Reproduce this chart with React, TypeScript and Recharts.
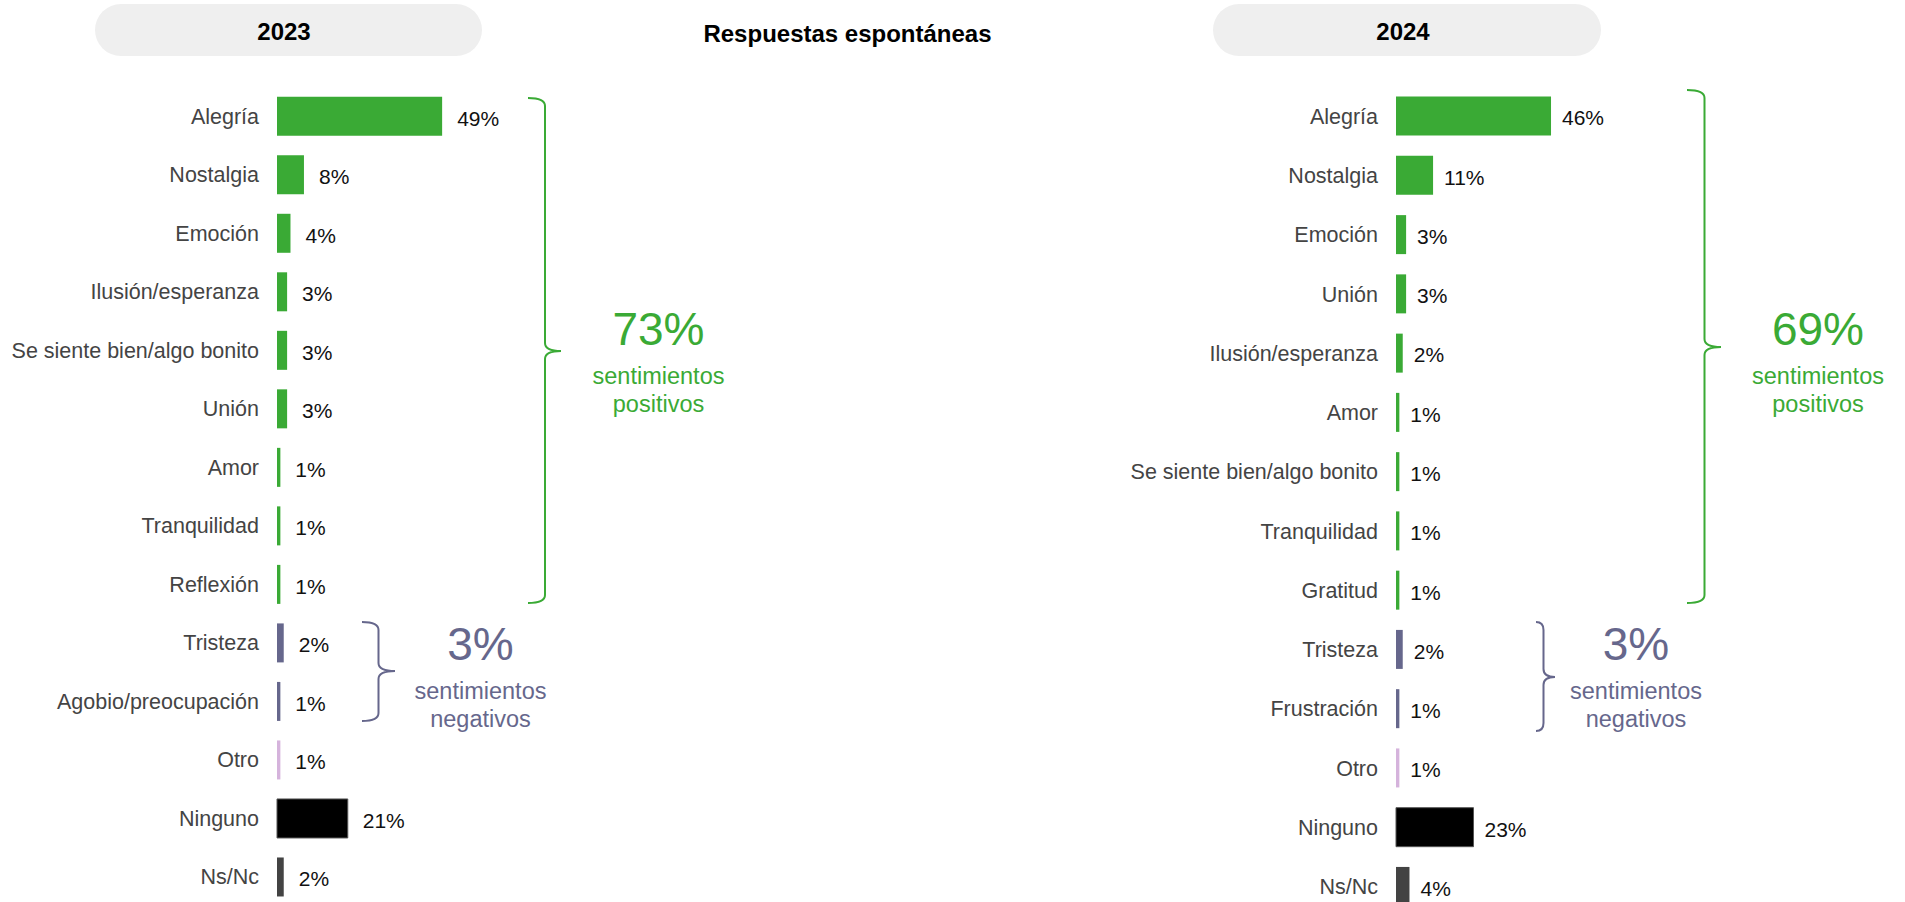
import React from "react";
import { BarChart, Bar, XAxis, YAxis, Cell, LabelList } from "recharts";

const categories2023 = [
  "Alegría",
  "Nostalgia",
  "Emoción",
  "Ilusión/esperanza",
  "Se siente bien/algo bonito",
  "Unión",
  "Amor",
  "Tranquilidad",
  "Reflexión",
  "Tristeza",
  "Agobio/preocupación",
  "Otro",
  "Ninguno",
  "Ns/Nc",
];
const values2023 = [49, 8, 4, 3, 3, 3, 1, 1, 1, 2, 1, 1, 21, 2];
const groups2023 = ["pos", "pos", "pos", "pos", "pos", "pos", "pos", "pos", "pos", "neg", "neg", "otro", "ninguno", "nsnc"];

const categories2024 = [
  "Alegría",
  "Nostalgia",
  "Emoción",
  "Unión",
  "Ilusión/esperanza",
  "Amor",
  "Se siente bien/algo bonito",
  "Tranquilidad",
  "Gratitud",
  "Tristeza",
  "Frustración",
  "Otro",
  "Ninguno",
  "Ns/Nc",
];
const values2024 = [46, 11, 3, 3, 2, 1, 1, 1, 1, 2, 1, 1, 23, 4];
const groups2024 = ["pos", "pos", "pos", "pos", "pos", "pos", "pos", "pos", "pos", "neg", "neg", "otro", "ninguno", "nsnc"];

const years = ["2023", "2024"];
const positiveTotals = [73, 69];
const negativeTotals = [3, 3];
const title = "Respuestas espontáneas";
const positiveText = ["sentimientos", "positivos"];
const negativeText = ["sentimientos", "negativos"];

const FONT = '"Liberation Sans", Arial, Helvetica, sans-serif';
const GREEN = "#3aaa35";
const SLATE = "#66678c";
const groupColors: Record<string, string> = {
  pos: GREEN,
  neg: SLATE,
  otro: "#d5b3dc",
  ninguno: "#000000",
  nsnc: "#434343",
};

function buildData(cats: string[], vals: number[], groups: string[]) {
  return cats.map((name, i) => ({ name, value: vals[i], group: groups[i] }));
}

const data2023 = buildData(categories2023, values2023, groups2023);
const data2024 = buildData(categories2024, values2024, groups2024);

function makeLabel(offset: number) {
  return (props: any) => {
    const { x, y, width, height, value } = props;
    return (
      <text
        x={Number(x) + Number(width) + offset}
        y={Number(y) + Number(height) / 2 + 2}
        dy="0.35em"
        fill="#111111"
        fontSize={21}
        fontFamily={FONT}
        textAnchor="start"
      >
        {`${value}%`}
      </text>
    );
  };
}

function Panel(props: {
  data: { name: string; value: number; group: string }[];
  left: number;
  width: number;
  height: number;
  axisWidth: number;
  top: number;
  bottom: number;
  right: number;
  labelOffset: number;
}) {
  const { data, left, width, height, axisWidth, top, bottom, right, labelOffset } = props;
  return (
    <div style={{ position: "absolute", left, top: 0, width, height }}>
      <BarChart
        width={width}
        height={height}
        data={data}
        layout="vertical"
        margin={{ top, right, bottom, left: 0 }}
        barCategoryGap={0}
      >
        <XAxis type="number" domain={[0, 100]} hide />
        <YAxis
          type="category"
          dataKey="name"
          width={axisWidth}
          axisLine={false}
          tickLine={false}
          tickSize={0}
          tickMargin={18}
          interval={0}
          tick={{ fill: "#444444", fontSize: 21.5, fontFamily: FONT }}
        />
        <Bar dataKey="value" barSize={39} isAnimationActive={false}>
          {data.map((d, i) => (
            <Cell
              key={i}
              fill={groupColors[d.group]}
              stroke={d.group === "ninguno" ? "#555555" : "none"}
              strokeWidth={1}
            />
          ))}
          <LabelList dataKey="value" content={makeLabel(labelOffset)} />
        </Bar>
      </BarChart>
    </div>
  );
}

function brace(xHook: number, xLine: number, xTip: number, yTop: number, yMid: number, yBot: number) {
  const r = 8;
  return `M${xHook},${yTop} Q${xLine},${yTop} ${xLine},${yTop + r} L${xLine},${yMid - r} Q${xLine},${yMid} ${xTip},${yMid} Q${xLine},${yMid} ${xLine},${yMid + r} L${xLine},${yBot - r} Q${xLine},${yBot} ${xHook},${yBot}`;
}

function Summary(props: { cx: number; value: number; lines: string[]; color: string; baseline: number }) {
  const { cx, value, lines, color, baseline } = props;
  return (
    <g fontFamily={FONT} fill={color} textAnchor="middle">
      <text x={cx} y={baseline} fontSize={46}>
        {`${value}%`}
      </text>
      <text x={cx} y={baseline + 39} fontSize={23.5}>
        {lines[0]}
      </text>
      <text x={cx} y={baseline + 67} fontSize={23.5}>
        {lines[1]}
      </text>
    </g>
  );
}

export default function App() {
  return (
    <div
      style={{
        position: "absolute",
        left: 0,
        top: 0,
        width: 1905,
        height: 902,
        overflow: "hidden",
        background: "#ffffff",
      }}
    >
      <svg
        width={1905}
        height={902}
        style={{ position: "absolute", left: 0, top: 0 }}
      >
        <rect x={95} y={4} width={387} height={52} rx={26} ry={26} fill="#efefef" />
        <rect x={1213} y={4} width={388} height={52} rx={26} ry={26} fill="#efefef" />
        <text x={284} y={39.5} textAnchor="middle" fontFamily={FONT} fontWeight="bold" fontSize={24} fill="#000">
          {years[0]}
        </text>
        <text x={1403} y={39.5} textAnchor="middle" fontFamily={FONT} fontWeight="bold" fontSize={24} fill="#000">
          {years[1]}
        </text>
        <text x={847.5} y={42.3} textAnchor="middle" fontFamily={FONT} fontWeight="bold" fontSize={24} fill="#000">
          {title}
        </text>

        <path d={brace(528, 545, 561, 98, 351, 603)} fill="none" stroke={GREEN} strokeWidth={2} />
        <path d={brace(362, 378.5, 395, 622, 671, 721)} fill="none" stroke={SLATE} strokeWidth={2} />
        <path d={brace(1687, 1704.5, 1721, 90, 347, 603)} fill="none" stroke={GREEN} strokeWidth={2} />
        <path d={brace(1536, 1543.5, 1555, 622, 677, 731)} fill="none" stroke={SLATE} strokeWidth={2} />

        <Summary cx={658.5} value={positiveTotals[0]} lines={positiveText} color={GREEN} baseline={345} />
        <Summary cx={480.5} value={negativeTotals[0]} lines={negativeText} color={SLATE} baseline={660} />
        <Summary cx={1818} value={positiveTotals[1]} lines={positiveText} color={GREEN} baseline={345} />
        <Summary cx={1636} value={negativeTotals[1]} lines={negativeText} color={SLATE} baseline={660} />
      </svg>

      <Panel
        data={data2023}
        left={0}
        width={960}
        height={920}
        axisWidth={277}
        top={86.75}
        bottom={14}
        right={346}
        labelOffset={15}
      />
      <Panel
        data={data2024}
        left={1100}
        width={805}
        height={930}
        axisWidth={296}
        top={86.6}
        bottom={13.8}
        right={172}
        labelOffset={11}
      />
    </div>
  );
}
